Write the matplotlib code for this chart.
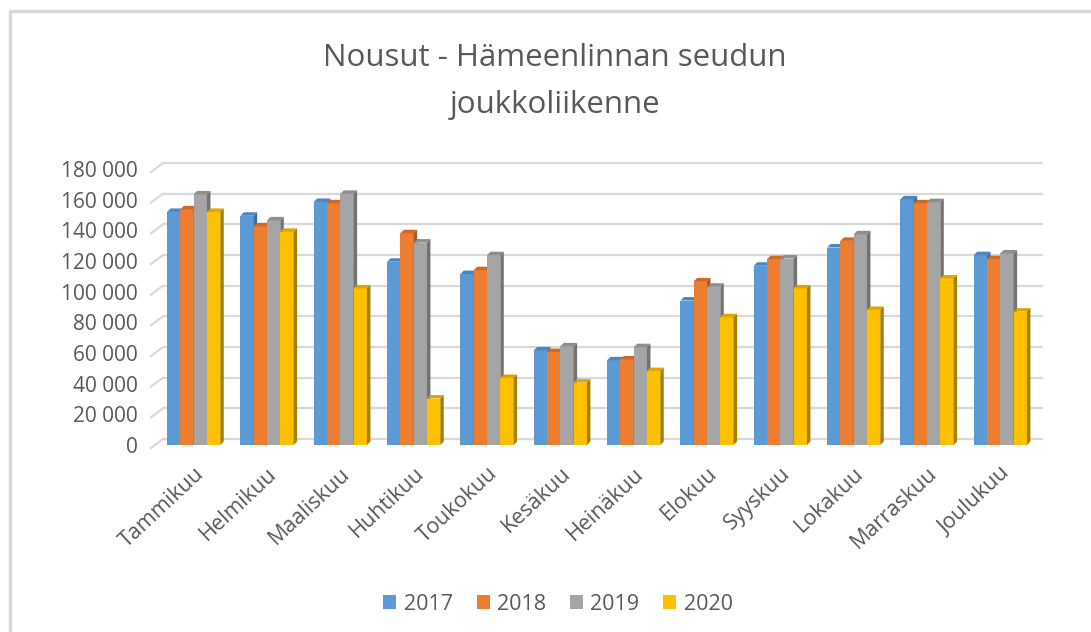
import matplotlib
matplotlib.use("Agg")
from matplotlib import pyplot as plt
from matplotlib.patches import Polygon, Rectangle, Patch

months = ["Tammikuu", "Helmikuu", "Maaliskuu", "Huhtikuu", "Toukokuu", "Kesäkuu",
          "Heinäkuu", "Elokuu", "Syyskuu", "Lokakuu", "Marraskuu", "Joulukuu"]
years = ["2017", "2018", "2019", "2020"]

nousut_2017 = [152000, 149500, 158500, 119500, 111500, 61700, 55200, 94200, 116900, 128800, 160200, 123800]
nousut_2018 = [153700, 142600, 157600, 138100, 114000, 60600, 55800, 106700, 121200, 133100, 157600, 121200]
nousut_2019 = [163400, 146500, 163800, 132000, 123800, 64300, 63800, 103200, 121600, 137400, 158400, 124900]
nousut_2020 = [152000, 139000, 102100, 30300, 43700, 40700, 48200, 83300, 102100, 88100, 108600, 87000]
series = [nousut_2017, nousut_2018, nousut_2019, nousut_2020]

yticks = list(range(0, 180001, 20000))
ytick_labels = ["0" if v == 0 else f"{v // 1000} 000" for v in yticks]

front = ["#5B9BD5", "#ED7D31", "#A5A5A5", "#FFC000"]
top = ["#4A86C2", "#CF6A25", "#8E8E8E", "#DDA600"]
side = ["#3E6E9C", "#A8571E", "#737373", "#A88000"]
txt = "#595959"
grid = "#D9D9D9"

plt.rcParams['font.family'] = ['Open Sans', 'DejaVu Sans']

W, H = 1091, 632
fig = plt.figure(figsize=(W / 100, H / 100), dpi=100)
# axes = plane of the bar fronts (pixel geometry)
ax_l, ax_r, ax_b, ax_t = 157, 1037, 445, 169
ax = fig.add_axes([ax_l / W, 1 - ax_b / H, (ax_r - ax_l) / W, (ax_b - ax_t) / H])
ax.set_xlim(-0.5, len(months) - 0.5)
ax.set_ylim(0, 180000)
for s in ax.spines.values():
    s.set_visible(False)

# pixel -> data conversions
px_x = (len(months)) / (ax_r - ax_l)
px_y = 180000 / (ax_b - ax_t)

# back wall gridlines with the little diagonal floor connector on the left
gdx, gdy = 6, 6
for v in yticks:
    x0 = -0.5 + gdx * px_x
    ax.plot([x0, len(months) - 0.5 + gdx * px_x], [v + gdy * px_y] * 2,
            color=grid, lw=1.6, zorder=1, clip_on=False, solid_capstyle='butt')
    ax.plot([-0.5 - 6 * px_x, x0], [v - 3 * px_y, v + gdy * px_y],
            color=grid, lw=1.6, zorder=1, clip_on=False)

# 3D-looking clustered bars
bw = 13.3 * px_x
ddx, ddy = 3.5 * px_x, 3.5 * px_y
for k, vals in enumerate(series):
    xs = [i + (k - 1.5) * bw for i in range(len(months))]
    ax.bar(xs, vals, width=bw, color=front[k], zorder=3 + k, linewidth=0)
    for x, v in zip(xs, vals):
        x0, x1 = x - bw / 2, x + bw / 2
        ax.add_patch(Polygon([(x0, v), (x1, v), (x1 + ddx, v + ddy), (x0 + ddx, v + ddy)],
                             closed=True, facecolor=top[k], lw=0, zorder=3.5 + k, clip_on=False))
        ax.add_patch(Polygon([(x1, 0), (x1 + ddx, ddy), (x1 + ddx, v + ddy), (x1, v)],
                             closed=True, facecolor=side[k], lw=0, zorder=3.5 + k, clip_on=False))

ax.set_yticks(yticks)
ax.set_yticklabels(ytick_labels, fontsize=15, color=txt)
ax.set_xticks(range(len(months)))
ax.set_xticklabels(months, fontsize=15.5, color=txt, rotation=43, ha='right',
                   rotation_mode='anchor')
ax.tick_params(axis='both', length=0)
ax.tick_params(axis='y', pad=14)
ax.tick_params(axis='x', pad=13)

# title
fig.text(555 / W, 1 - 66 / H, "Nousut - Hämeenlinnan seudun", ha='center', va='baseline',
         fontsize=22.5, color=txt)
fig.text(555 / W, 1 - 113 / H, "joukkoliikenne", ha='center', va='baseline',
         fontsize=22.5, color=txt)

handles = [Patch(facecolor=c, edgecolor='none') for c in front]
fig.legend(handles, years, loc='center', bbox_to_anchor=(558 / W, 1 - 604 / H), ncol=4,
           frameon=False, fontsize=15.5, labelcolor=txt, handlelength=0.6, handleheight=0.6,
           handletextpad=0.35, columnspacing=1.1)

# chart frame
fig.add_artist(Rectangle((10 / W, -0.1), 1.2, 1 - 11 / H + 0.1, transform=fig.transFigure,
                         fill=False, edgecolor=grid, lw=2.5))

fig.savefig("out.png", dpi=100, facecolor="white")
